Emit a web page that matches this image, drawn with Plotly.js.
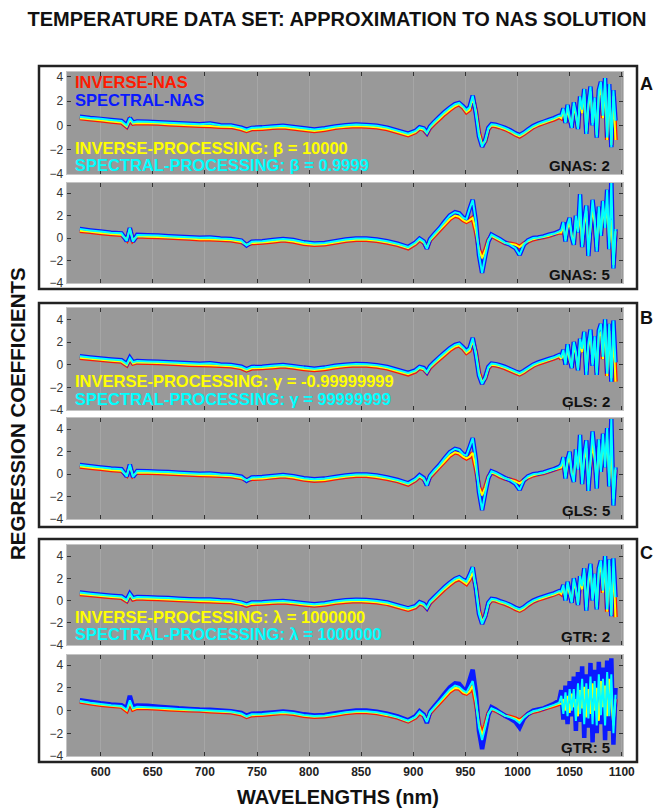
<!DOCTYPE html>
<html>
<head>
<meta charset="utf-8">
<script src="https://cdn.plot.ly/plotly-3.0.1.min.js"></script>
<style>html,body{margin:0;padding:0;background:#fff;}#chart{width:654px;height:811px;}</style>
</head>
<body>
<div id="chart"></div>
<script>
// Wavelengths (nm)
const wavelengths = [
580,590,600,610,620,625,628,631,635,645,655,665,675,685,695,705,715,725,735,740,745,755,765,775,785,795,805,815,825,835,845,855,865,875,885,895,
902,906,910,913,916,920,925,930,935,940,944,948,951,954,957,960,963,966,969,972,975,979,983,988,993,998,1002,1006,1010,1015,1020,1025,1030,1035,1040,
1042,1044,1046,1048,1050,1052,1054,1056,1058,1060,1062,1064,1066,1068,1070,1072,1074,1076,1078,1080,1082,1084,1086,1088,1090,1092,1094];

const xTicks = [600,650,700,750,800,850,900,950,1000,1050,1100];
const yTicks = [-4,-2,0,2,4];

// Panel A1: GNAS 2
const gnas2Inverse = [
0.6,0.5,0.42,0.33,0.25,-0.1,0.45,0.15,0.2,0.18,0.15,0.1,0.05,0.02,-0.02,-0.05,-0.1,-0.12,-0.3,-0.45,-0.3,-0.28,-0.2,-0.15,-0.25,-0.35,-0.45,-0.35,-0.2,-0.1,-0.05,-0.08,-0.15,-0.3,-0.55,-0.8,
-0.55,-0.25,-0.35,-0.65,-0.2,0.15,0.55,0.95,1.3,1.6,1.75,1.45,1.1,1.3,2.25,1.2,-0.6,-1.6,-1.3,-0.3,0.0,-0.05,-0.15,-0.3,-0.5,-0.75,-0.9,-0.7,-0.45,-0.15,0.05,0.2,0.35,0.5,0.7,
0.6,1.2,0.3,1.4,0.5,0.0,1.6,0.8,-0.2,2.1,1.0,2.6,-0.5,1.5,2.8,0.2,1.9,-0.8,2.4,3.1,0.6,3.2,-1.2,2.9,-1.6,2.4,-1.2];
const gnas2Spectral = [
0.72,0.62,0.54,0.45,0.37,0.0,0.6,0.25,0.32,0.3,0.27,0.22,0.17,0.14,0.1,0.15,0.02,0.0,-0.18,-0.35,-0.2,-0.16,-0.08,-0.03,-0.13,-0.23,-0.33,-0.23,-0.08,0.02,0.07,0.04,-0.03,-0.18,-0.43,-0.68,
-0.45,-0.15,-0.25,-0.6,-0.1,0.28,0.7,1.1,1.45,1.75,1.85,1.55,1.25,1.5,2.45,1.0,-0.9,-1.75,-1.2,-0.2,0.1,0.05,-0.05,-0.2,-0.4,-0.65,-0.8,-0.6,-0.35,-0.05,0.15,0.3,0.45,0.6,0.8,
0.8,1.4,0.2,1.7,0.7,-0.2,1.9,1.0,-0.3,2.4,1.3,3.0,-0.7,1.8,3.2,0.0,2.3,-1.0,2.9,3.6,0.8,3.9,-1.0,3.4,-1.8,2.9,0.4];

// Panel A2: GNAS 5
const gnas5Inverse = [
0.65,0.55,0.45,0.35,0.3,-0.15,0.8,-0.2,0.15,0.12,0.1,0.05,0.0,-0.05,-0.1,-0.1,-0.15,-0.2,-0.35,-0.6,-0.45,-0.4,-0.3,-0.2,-0.3,-0.5,-0.6,-0.55,-0.4,-0.25,-0.15,-0.15,-0.25,-0.4,-0.6,-0.9,
-0.5,-0.15,-0.4,-0.85,-0.2,0.2,0.7,1.2,1.7,2.0,1.9,1.6,1.45,1.6,1.8,0.6,-1.0,-1.8,-1.1,-0.2,0.2,0.0,-0.2,-0.45,-0.5,-0.6,-0.8,-0.5,-0.3,-0.1,0.0,0.1,0.2,0.35,0.5,
0.5,1.1,-0.1,0.9,1.4,0.2,-0.4,1.6,0.6,2.0,-0.6,1.2,2.4,-1.0,0.8,2.6,1.4,-0.8,2.2,0.4,2.7,1.2,3.0,-0.4,1.6,-2.4,0.6];
const gnas5Spectral = [
0.8,0.68,0.58,0.48,0.42,-0.25,0.9,-0.3,0.28,0.25,0.22,0.17,0.12,0.07,0.03,0.05,-0.03,-0.08,-0.22,-0.65,-0.32,-0.28,-0.18,-0.08,-0.18,-0.38,-0.48,-0.43,-0.28,-0.13,-0.03,-0.03,-0.13,-0.28,-0.5,-0.8,
-0.4,-0.05,-0.3,-0.95,-0.1,0.35,0.85,1.45,2.0,2.3,2.2,1.8,1.7,2.6,3.4,1.5,-1.5,-3.1,-1.6,-0.3,0.3,0.1,-0.1,-0.4,-0.6,-0.9,-1.5,-0.6,-0.2,0.0,0.05,0.15,0.3,0.4,0.6,
0.7,1.4,-0.3,1.2,1.8,0.1,-0.6,2.0,0.5,3.9,-0.8,1.6,2.9,-1.6,1.0,3.4,1.7,-1.2,2.8,0.2,3.3,0.9,4.3,-1.0,5.2,-2.7,0.8];

// Panel B1: GLS 2
const gls2Inverse = [
0.62,0.52,0.43,0.34,0.27,-0.05,0.5,0.1,0.2,0.17,0.14,0.1,0.05,0.0,-0.03,-0.05,-0.1,-0.15,-0.3,-0.5,-0.32,-0.3,-0.22,-0.15,-0.25,-0.38,-0.47,-0.38,-0.22,-0.12,-0.06,-0.08,-0.16,-0.32,-0.58,-0.85,
-0.6,-0.3,-0.4,-0.7,-0.25,0.1,0.5,0.9,1.3,1.6,1.7,1.4,1.05,1.25,2.1,1.1,-0.7,-1.55,-1.2,-0.3,0.0,-0.05,-0.15,-0.3,-0.5,-0.7,-0.85,-0.65,-0.4,-0.1,0.1,0.25,0.4,0.55,0.75,
0.5,1.0,0.2,1.5,0.4,-0.1,1.7,0.9,-0.4,1.9,1.1,2.4,-0.6,1.6,2.6,0.1,2.1,-0.7,2.5,2.9,0.5,3.4,-1.0,3.0,-1.2,2.6,-1.5];
const gls2Spectral = [
0.74,0.64,0.55,0.46,0.39,0.05,0.62,0.22,0.32,0.29,0.26,0.22,0.17,0.12,0.09,0.12,0.02,-0.03,-0.18,-0.4,-0.2,-0.18,-0.1,-0.03,-0.13,-0.26,-0.35,-0.26,-0.1,0.0,0.06,0.04,-0.04,-0.2,-0.46,-0.73,
-0.5,-0.2,-0.3,-0.65,-0.15,0.22,0.65,1.05,1.45,1.75,1.85,1.5,1.2,1.45,2.35,0.9,-0.95,-1.7,-1.1,-0.2,0.1,0.05,-0.05,-0.2,-0.4,-0.6,-0.75,-0.55,-0.3,0.0,0.2,0.35,0.5,0.65,0.85,
0.7,1.3,0.0,1.8,0.6,-0.3,2.0,1.1,-0.5,2.3,1.4,2.9,-0.9,1.9,3.1,-0.1,2.5,-0.9,3.0,3.6,0.7,4.0,-0.8,3.6,-1.5,3.9,0.2];

// Panel B2: GLS 5
const gls5Inverse = [
0.68,0.57,0.47,0.37,0.3,-0.1,0.7,-0.15,0.15,0.12,0.1,0.06,0.0,-0.04,-0.08,-0.1,-0.15,-0.2,-0.35,-0.55,-0.42,-0.38,-0.28,-0.2,-0.3,-0.48,-0.58,-0.52,-0.38,-0.24,-0.15,-0.15,-0.25,-0.42,-0.62,-0.92,
-0.55,-0.2,-0.45,-0.9,-0.25,0.15,0.65,1.15,1.65,1.95,1.85,1.55,1.4,1.55,1.9,0.5,-1.1,-1.9,-1.2,-0.25,0.15,0.0,-0.2,-0.4,-0.5,-0.65,-0.85,-0.55,-0.3,-0.1,0.0,0.1,0.25,0.4,0.55,
0.6,1.2,-0.2,1.0,1.5,0.1,-0.3,1.7,0.5,2.1,-0.5,1.3,2.3,-0.9,0.9,2.7,1.3,-0.6,2.4,0.4,2.8,1.1,3.1,-0.4,2.0,-2.2,0.4];
const gls5Spectral = [
0.82,0.7,0.6,0.5,0.43,-0.2,0.85,-0.25,0.28,0.25,0.22,0.18,0.12,0.08,0.04,0.05,-0.03,-0.08,-0.22,-0.6,-0.3,-0.26,-0.16,-0.08,-0.18,-0.36,-0.46,-0.4,-0.26,-0.12,-0.03,-0.03,-0.13,-0.3,-0.52,-0.82,
-0.45,-0.1,-0.35,-1.0,-0.15,0.3,0.8,1.4,1.95,2.25,2.15,1.75,1.65,2.4,3.2,1.3,-1.6,-3.2,-1.7,-0.35,0.25,0.1,-0.1,-0.35,-0.55,-0.85,-1.4,-0.55,-0.2,0.0,0.05,0.15,0.3,0.45,0.65,
0.8,1.5,-0.4,1.3,2.0,0.0,-0.7,2.2,0.4,3.5,-0.9,1.7,3.0,-1.5,1.2,3.8,1.8,-1.3,3.1,0.2,3.6,0.6,4.1,-1.1,4.9,-2.8,0.6];

// Panel C1: GTR 2
const gtr2Inverse = [
0.6,0.5,0.4,0.32,0.25,-0.05,0.5,0.1,0.2,0.17,0.14,0.1,0.05,0.0,-0.03,-0.06,-0.1,-0.14,-0.3,-0.45,-0.3,-0.27,-0.2,-0.15,-0.25,-0.36,-0.45,-0.36,-0.2,-0.1,-0.05,-0.08,-0.15,-0.3,-0.56,-0.82,
-0.6,-0.25,-0.4,-0.7,-0.2,0.15,0.6,1.05,1.45,1.8,1.95,1.7,1.5,1.9,2.5,1.2,-0.9,-1.9,-1.4,-0.3,0.05,0.0,-0.15,-0.3,-0.5,-0.75,-0.9,-0.7,-0.4,-0.1,0.1,0.25,0.4,0.55,0.75,
0.6,1.1,0.2,1.4,0.6,-0.1,1.7,0.9,-0.3,1.9,1.0,2.5,-0.6,1.5,2.9,0.2,2.0,-0.6,2.5,3.0,0.7,3.3,-1.0,3.1,-1.3,2.9,-1.5];
const gtr2Spectral = [
0.72,0.62,0.52,0.44,0.37,0.05,0.62,0.22,0.32,0.29,0.26,0.22,0.17,0.12,0.09,0.1,0.02,-0.02,-0.18,-0.35,-0.18,-0.15,-0.08,-0.03,-0.13,-0.24,-0.33,-0.24,-0.08,0.02,0.07,0.04,-0.03,-0.18,-0.44,-0.7,
-0.5,-0.15,-0.3,-0.65,-0.1,0.28,0.75,1.2,1.6,1.95,2.1,1.85,1.7,2.3,3.0,1.1,-1.2,-2.1,-1.4,-0.2,0.15,0.1,-0.05,-0.2,-0.4,-0.65,-0.8,-0.6,-0.3,0.0,0.2,0.35,0.5,0.65,0.85,
0.8,1.4,0.0,1.7,0.8,-0.2,2.0,1.1,-0.4,2.2,1.3,2.9,-0.9,1.9,3.3,0.0,2.4,-0.8,2.9,3.6,0.9,4.0,-0.8,3.7,-1.4,3.8,0.3];

// Panel C2: GTR 5
const gtr5Inverse = [
0.8,0.65,0.52,0.42,0.35,0.0,0.7,0.1,0.25,0.22,0.18,0.13,0.08,0.04,0.0,-0.05,-0.1,-0.15,-0.32,-0.55,-0.4,-0.36,-0.28,-0.2,-0.28,-0.45,-0.55,-0.5,-0.36,-0.22,-0.13,-0.13,-0.22,-0.4,-0.62,-0.95,
-0.6,-0.2,-0.45,-0.9,-0.2,0.2,0.7,1.2,1.7,2.0,1.95,1.6,1.5,1.7,2.2,0.7,-1.2,-2.2,-1.3,-0.25,0.15,0.0,-0.2,-0.45,-0.55,-0.7,-0.9,-0.6,-0.3,-0.1,0.0,0.15,0.3,0.45,0.6,
0.6,1.0,0.0,1.3,-0.2,1.5,0.3,1.0,-0.5,1.8,0.2,2.1,-0.6,1.9,-0.3,2.4,0.0,2.0,-0.9,2.6,0.3,2.2,-0.5,2.8,0.6,-1.3,1.0];
const gtr5SpectralNas = [
0.92,0.78,0.65,0.55,0.48,0.2,1.3,0.35,0.45,0.42,0.35,0.28,0.2,0.15,0.1,0.08,0.02,-0.05,-0.2,-0.45,-0.28,-0.24,-0.16,-0.08,-0.16,-0.33,-0.43,-0.38,-0.24,-0.1,0.0,0.0,-0.1,-0.28,-0.52,-0.85,
-0.5,-0.05,-0.35,-1.1,-0.1,0.35,0.9,1.5,2.05,2.4,2.35,1.9,1.8,2.7,3.6,1.6,-1.8,-3.4,-1.9,-0.4,0.3,0.1,-0.15,-0.45,-0.7,-1.0,-1.5,-0.7,-0.3,0.0,0.1,0.2,0.4,0.6,0.9,
1.8,-0.8,2.2,-1.2,2.6,-0.5,3.0,-1.8,3.4,-1.0,3.9,-2.4,3.2,-1.5,4.2,-2.8,3.6,-2.0,4.3,-1.2,3.8,-2.6,4.4,-1.8,4.6,-3.0,2.0];
const gtr5SpectralProc = [
0.85,0.7,0.58,0.48,0.41,0.08,0.9,0.2,0.33,0.3,0.26,0.2,0.14,0.1,0.06,0.02,-0.03,-0.08,-0.25,-0.5,-0.33,-0.29,-0.21,-0.13,-0.21,-0.38,-0.48,-0.43,-0.29,-0.15,-0.06,-0.06,-0.15,-0.33,-0.56,-0.88,
-0.55,-0.1,-0.4,-1.0,-0.15,0.28,0.8,1.35,1.85,2.2,2.1,1.75,1.6,2.1,2.6,1.0,-1.5,-2.6,-1.5,-0.3,0.2,0.05,-0.15,-0.45,-0.6,-0.8,-1.1,-0.6,-0.3,-0.05,0.05,0.2,0.35,0.5,0.7,
1.3,-0.3,1.6,-0.5,1.9,0.0,1.9,-0.9,2.4,-0.3,2.8,-1.2,2.4,-0.7,3.0,-1.2,2.6,-1.3,3.2,-0.4,2.8,-1.3,3.4,-0.5,3.2,-2.0,1.4];

// Panels: inverse-NAS (red), spectral-NAS (blue), inverse-processing (yellow), spectral-processing (cyan)
const panels = [
  {invNas: gnas2Inverse, specNas: gnas2Spectral, invProc: gnas2Inverse, specProc: gnas2Spectral, label: 'GNAS: 2'},
  {invNas: gnas5Inverse, specNas: gnas5Spectral, invProc: gnas5Inverse, specProc: gnas5Spectral, label: 'GNAS: 5'},
  {invNas: gls2Inverse, specNas: gls2Spectral, invProc: gls2Inverse, specProc: gls2Spectral, label: 'GLS: 2'},
  {invNas: gls5Inverse, specNas: gls5Spectral, invProc: gls5Inverse, specProc: gls5Spectral, label: 'GLS: 5'},
  {invNas: gtr2Inverse, specNas: gtr2Spectral, invProc: gtr2Inverse, specProc: gtr2Spectral, label: 'GTR: 2'},
  {invNas: gtr5Inverse, specNas: gtr5SpectralNas, invProc: gtr5Inverse, specProc: gtr5SpectralProc, label: 'GTR: 5'}
];

// ---- layout geometry (pixels) ----
const W = 654, H = 811;
const px = x => x / W;
const py = y => 1 - y / H;
const plotLeft = 66.7, plotRight = 623;
const panelPx = [[72,174],[183,283],[308,410],[418,519],[545,645],[655,756]];
const yRanges = [[-4,4.4],[-4,4.9],[-4,5],[-4,5],[-4,5],[-4,4.9]];
const FONT = 'Liberation Sans, Arial, Helvetica, sans-serif';

const traces = [];
const layout = {
  width: W, height: H, autosize: false,
  margin: {l:0, r:0, t:0, b:0},
  paper_bgcolor: '#ffffff',
  plot_bgcolor: '#999999',
  showlegend: false,
  title: {text: 'TEMPERATURE DATA SET: APPROXIMATION TO NAS SOLUTION',
          x: px(337), xanchor: 'center', y: py(19), yanchor: 'middle',
          font: {family: FONT, size: 20, weight: 'bold', color: '#111'}},
  annotations: [], shapes: []
};

panels.forEach((p, i) => {
  const n = i + 1;
  const s = n === 1 ? '' : String(n);
  const mk = (y, color, width) => ({
    x: wavelengths, y: y, type: 'scatter', mode: 'lines',
    line: {color: color, width: width, simplify: false},
    xaxis: 'x' + s, yaxis: 'y' + s, hoverinfo: 'skip', showlegend: false
  });
  traces.push(mk(p.invNas, '#ff1a00', 4.5));
  traces.push(mk(p.specNas, '#0a1aff', 4.5));
  traces.push(mk(p.invProc, '#ffff00', 2));
  traces.push(mk(p.specProc, '#00ffff', 2));

  const [top, bot] = panelPx[i];
  layout['xaxis' + s] = {
    domain: [px(plotLeft), px(plotRight)], range: [567.4, 1101.2],
    anchor: 'y' + s, tickmode: 'array', tickvals: xTicks,
    ticks: 'inside', ticklen: 4, tickcolor: '#333', tickwidth: 1,
    showline: true, linecolor: '#c4c4c4', linewidth: 1, mirror: 'ticks',
    showgrid: true, gridcolor: '#a6a6a6', gridwidth: 1, zeroline: false,
    showticklabels: n === 6, ticklabelstandoff: 5,
    tickfont: {family: FONT, size: 12, weight: 'bold', color: '#222'},
    fixedrange: true
  };
  layout['yaxis' + s] = {
    domain: [py(bot), py(top)], range: yRanges[i],
    anchor: 'x' + s, tickmode: 'array', tickvals: yTicks,
    ticks: 'inside', ticklen: 4, tickcolor: '#333', tickwidth: 1,
    showline: true, linecolor: '#c4c4c4', linewidth: 1, mirror: 'ticks',
    showgrid: false, zeroline: false,
    tickfont: {family: FONT, size: 12, color: '#333'},
    fixedrange: true
  };
  layout.annotations.push({
    text: '<b>' + p.label + '</b>', xref: 'paper', yref: 'paper',
    x: px(612), y: py(bot - 9), xanchor: 'right', yanchor: 'middle', showarrow: false,
    font: {family: FONT, size: 15, color: '#111'}
  });
});

const txt = (t, x, y, color, size, anchor) => ({
  text: '<b>' + t + '</b>', xref: 'paper', yref: 'paper', x: px(x), y: py(y),
  xanchor: anchor || 'left', yanchor: 'middle', showarrow: false,
  font: {family: FONT, size: size, color: color}
});
layout.annotations.push(
  txt('INVERSE-NAS', 73, 82, '#ff1a00', 16.5),
  txt('SPECTRAL-NAS', 73, 100, '#0a1aff', 16.5),
  txt('INVERSE-PROCESSING: β = 10000', 73, 148, '#ffff00', 16.5),
  txt('SPECTRAL-PROCESSING: β = 0.9999', 73, 165, '#00ffff', 16.5),
  txt('INVERSE-PROCESSING: γ = -0.99999999', 73, 381, '#ffff00', 16.5),
  txt('SPECTRAL-PROCESSING: γ = 99999999', 73, 399, '#00ffff', 16.5),
  txt('INVERSE-PROCESSING: λ = 1000000', 73, 617, '#ffff00', 16.5),
  txt('SPECTRAL-PROCESSING: λ = 1000000', 73, 634, '#00ffff', 16.5),
  txt('A', 646, 84, '#111', 18, 'center'),
  txt('B', 646, 318, '#111', 18, 'center'),
  txt('C', 646, 553, '#111', 18, 'center'),
  txt('WAVELENGTHS (nm)', 338, 797, '#111', 20, 'center')
);
layout.annotations.push({
  text: '<b>REGRESSION COEFFICIENTS</b>', xref: 'paper', yref: 'paper',
  x: px(18), y: py(414), xanchor: 'center', yanchor: 'middle', textangle: -90,
  showarrow: false, font: {family: FONT, size: 20.5, color: '#111'}
});

// group frames
[[66,289],[303,527],[539,762]].forEach(([t, b]) => {
  layout.shapes.push({type: 'rect', xref: 'paper', yref: 'paper',
    x0: px(39), x1: px(637), y0: py(b), y1: py(t),
    line: {color: '#222', width: 2.5}, fillcolor: 'rgba(0,0,0,0)', layer: 'above'});
});

Plotly.newPlot('chart', traces, layout, {staticPlot: true, displayModeBar: false});
</script>
</body>
</html>
